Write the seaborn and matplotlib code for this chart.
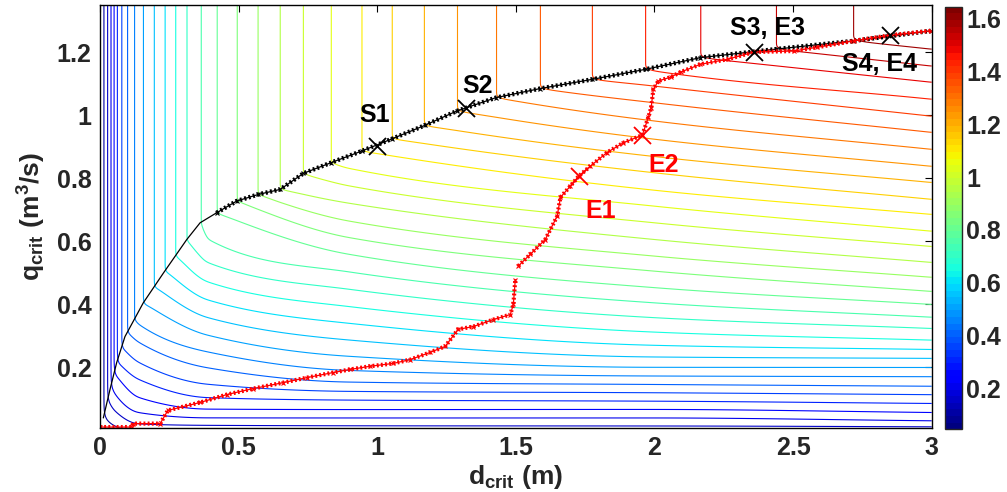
import numpy as np
import matplotlib
matplotlib.use("Agg")
import matplotlib.pyplot as plt
import matplotlib.cm as cm
from matplotlib.colors import Normalize
import seaborn as sns

sns.set_style("white")
plt.rcParams['font.family'] = ['Liberation Sans', 'DejaVu Sans']
plt.rcParams['font.weight'] = 'bold'
plt.rcParams['mathtext.fontset'] = 'custom'
plt.rcParams['mathtext.rm'] = 'Liberation Sans:bold'
plt.rcParams['mathtext.it'] = 'Liberation Sans:bold'
plt.rcParams['mathtext.bf'] = 'Liberation Sans:bold'

# ---------------- data ----------------
levels = [0.05, 0.10, 0.15, 0.20, 0.25, 0.30, 0.35, 0.40, 0.45, 0.50, 0.55,
          0.60, 0.65, 0.70, 0.75, 0.80, 0.85, 0.90, 0.95, 1.00, 1.05, 1.10,
          1.15, 1.20, 1.25, 1.30, 1.35, 1.40, 1.45, 1.50, 1.55, 1.60]
value_min, value_max = 0.045, 1.645

# d position of the vertical contour of each level 0.10 ... 1.60 (upper region)
vert_d = [0.014, 0.028, 0.040, 0.051, 0.061, 0.078, 0.099, 0.124, 0.156, 0.196,
          0.235, 0.273, 0.313, 0.365, 0.422, 0.495, 0.570, 0.650, 0.733, 0.834,
          0.945, 1.054, 1.170, 1.289, 1.430, 1.588, 1.776, 1.968, 2.166, 2.440, 2.718]

# black boundary curve (d_crit, q_crit)
bnd_d = [0.012, 0.036, 0.060, 0.090, 0.156, 0.229, 0.313, 0.361, 0.421, 0.493,
         0.571, 0.650, 0.734, 0.834, 0.945, 1.055, 1.171, 1.288, 1.428, 1.588,
         1.775, 1.968, 2.166, 2.439, 2.717, 2.996]
bnd_q = [0.040, 0.130, 0.215, 0.298, 0.405, 0.500, 0.606, 0.659, 0.691, 0.728,
         0.749, 0.765, 0.816, 0.850, 0.887, 0.926, 0.968, 1.014, 1.056, 1.085,
         1.114, 1.146, 1.183, 1.210, 1.236, 1.268]

# q position of contour levels 0.10, 0.15, ... below the boundary, at fixed d columns
col_d = [0.05, 0.141, 0.39, 0.9, 2.0, 3.0]
col_q_005 = [0.020, 0.065, 0.120]
col_q_0141 = [0.000, 0.019, 0.056, 0.104, 0.162, 0.215, 0.280, 0.335]
col_q_039 = [0.000, 0.015, 0.040, 0.067, 0.104, 0.146, 0.199, 0.249, 0.302, 0.358,
             0.414, 0.471, 0.532, 0.606]
col_q_09 = [0.000, 0.013, 0.040, 0.066, 0.097, 0.124, 0.153, 0.190, 0.235, 0.287,
            0.340, 0.393, 0.448, 0.503, 0.559, 0.612, 0.664, 0.721, 0.776, 0.831]
col_q_2 = [0.000, 0.012, 0.040, 0.067, 0.093, 0.120, 0.146, 0.173, 0.200, 0.233,
           0.270, 0.312, 0.358, 0.405, 0.453, 0.506, 0.553, 0.606, 0.659, 0.712,
           0.762, 0.818, 0.869, 0.924, 0.982, 1.040, 1.093, 1.140]
col_q_3 = [0.000, 0.010, 0.030, 0.057, 0.086, 0.114, 0.140, 0.171, 0.200, 0.229,
           0.257, 0.286, 0.324, 0.359, 0.400, 0.441, 0.486, 0.533, 0.584, 0.632,
           0.686, 0.733, 0.787, 0.838, 0.892, 0.946, 0.997, 1.051, 1.105, 1.156, 1.210]

# red path (two pieces, gap near d = 1.5)
red1_d = [0.000, 0.114, 0.119, 0.217, 0.245, 0.361, 0.457, 0.552, 0.661, 0.747,
          0.841, 0.903, 0.975, 1.058, 1.119, 1.191, 1.245, 1.292, 1.347, 1.419,
          1.480, 1.491, 1.498]
red1_q = [0.011, 0.011, 0.022, 0.022, 0.064, 0.089, 0.114, 0.133, 0.152, 0.168,
          0.184, 0.194, 0.204, 0.213, 0.225, 0.248, 0.267, 0.321, 0.330, 0.352,
          0.368, 0.400, 0.479]
red2_d = [1.509, 1.552, 1.606, 1.649, 1.661, 1.697, 1.727, 1.769, 1.829, 1.888,
          1.956, 1.978, 1.988, 1.996, 2.014, 2.058, 2.094, 2.166, 2.264, 2.361,
          2.502, 2.588, 2.718, 2.848, 2.996]
red2_q = [0.522, 0.559, 0.606, 0.680, 0.740, 0.776, 0.807, 0.839, 0.882, 0.913,
          0.937, 0.994, 1.024, 1.083, 1.109, 1.121, 1.137, 1.162, 1.178, 1.201,
          1.204, 1.216, 1.236, 1.254, 1.268]

# labelled points
s_names = ["S1", "S2", "S3, E3", "S4, E4"]
s_d = [1.00, 1.32, 2.36, 2.85]
s_q = [0.903, 1.024, 1.201, 1.254]
s_label_d = [0.99, 1.363, 2.407, 2.812]
s_label_q = [1.002, 1.093, 1.277, 1.164]
e_names = ["E1", "E2"]
e_d = [1.727, 1.956]
e_q = [0.807, 0.937]
e_label_d = [1.805, 2.032]
e_label_q = [0.698, 0.841]

xticks = [0, 0.5, 1, 1.5, 2, 2.5, 3]
xticklabels = ["0", "0.5", "1", "1.5", "2", "2.5", "3"]
yticks = [0.2, 0.4, 0.6, 0.8, 1.0, 1.2]
yticklabels = ["0.2", "0.4", "0.6", "0.8", "1", "1.2"]
cticks = [0.2, 0.4, 0.6, 0.8, 1.0, 1.2, 1.4, 1.6]
cticklabels = ["0.2", "0.4", "0.6", "0.8", "1", "1.2", "1.4", "1.6"]


# ---------------- build the field from the tables ----------------
def pchip(x, y, xi):
    x = np.asarray(x, float)
    y = np.asarray(y, float)
    n = len(x)
    if n < 3:
        return np.interp(xi, x, y)
    h = np.diff(x)
    delta = np.diff(y) / h
    m = np.zeros(n)
    for i in range(1, n - 1):
        if delta[i - 1] * delta[i] <= 0:
            m[i] = 0.0
        else:
            w1 = 2 * h[i] + h[i - 1]
            w2 = h[i] + 2 * h[i - 1]
            m[i] = (w1 + w2) / (w1 / delta[i - 1] + w2 / delta[i])
    m[0] = 1.2 * delta[0]
    m[-1] = delta[-1]
    xc = np.clip(xi, x[0], x[-1])
    idx = np.clip(np.searchsorted(x, xc) - 1, 0, n - 2)
    t = (xc - x[idx]) / h[idx]
    h00 = 2 * t**3 - 3 * t**2 + 1
    h10 = t**3 - 2 * t**2 + t
    h01 = -2 * t**3 + 3 * t**2
    h11 = t**3 - t**2
    return h00 * y[idx] + h10 * h[idx] * m[idx] + h01 * y[idx + 1] + h11 * h[idx] * m[idx + 1]


def smooth(a, sig, axis):
    r = int(3 * sig)
    k = np.exp(-0.5 * (np.arange(-r, r + 1) / sig) ** 2)
    k /= k.sum()
    pad = [(0, 0), (0, 0)]
    pad[axis] = (r, r)
    ap = np.pad(a, pad, mode="edge")
    out = np.zeros_like(a)
    for i, w in enumerate(k):
        if axis == 0:
            out += w * ap[i:i + a.shape[0], :]
        else:
            out += w * ap[:, i:i + a.shape[1]]
    return out


vert_levels = levels[1:]
cols = [col_q_005, col_q_0141, col_q_039, col_q_09, col_q_2, col_q_3]
dd = np.linspace(0.0, 3.0, 601)
qq = np.linspace(0.0, 1.36, 545)
f_col = np.interp(dd, [0.0] + vert_d + [3.0], [value_min] + vert_levels + [value_max])
qb_col = np.interp(dd, bnd_d, bnd_q)

Qk = np.zeros((len(vert_levels), dd.size))
for k, L in enumerate(vert_levels):
    dL = vert_d[k]
    pts_d = [dL]
    pts_q = [float(np.interp(dL, bnd_d, bnd_q))]
    for cd, cq in zip(col_d, cols):
        if cd > dL and k < len(cq):
            pts_d.append(cd)
            pts_q.append(cq[k])
    below = pchip(pts_d, pts_q, dd)
    above = qb_col + (L - f_col) * 1.0
    Qk[k] = np.where(dd >= dL, below, above)

G = np.zeros((qq.size, dd.size))
for j in range(dd.size):
    qk = np.maximum.accumulate(Qk[:, j]) + np.arange(len(vert_levels)) * 1e-6
    xs = np.concatenate([[qk[0] - 0.3], qk, [qk[-1] + 0.3]])
    ys = np.concatenate([[0.0], vert_levels, [1.9]])
    G[:, j] = np.interp(qq, xs, ys)
Z = np.minimum(f_col[None, :], G)
Z = smooth(smooth(Z, 3.0, 0), 1.5, 1)

# ---------------- figure ----------------
W, H = 1007, 492
fig = plt.figure(figsize=(W / 100, H / 100), dpi=100)
ax = fig.add_axes([100 / W, (H - 427.7) / H, 831.7 / W, 422.7 / H])
cax = fig.add_axes([945 / W, (H - 429.3) / H, 17.3 / W, 422.6 / H])

norm = Normalize(vmin=value_min, vmax=value_max)
ax.contour(dd, qq, Z, levels=levels, cmap="jet", norm=norm, linewidths=0.8)

# black boundary
sns.lineplot(x=bnd_d, y=bnd_q, sort=False, estimator=None, color="k", lw=0.9, ax=ax)
up = [i for i, v in enumerate(bnd_d) if v >= 0.42]
ax.plot([bnd_d[i] for i in up], [bnd_q[i] for i in up], color="k", lw=3.2,
        ls=(0, (0.45, 0.55)), dash_capstyle="butt")
ax.plot([bnd_d[i] for i in up], [bnd_q[i] for i in up], "x", color="k", ms=3.5, mew=0.8)

# red path
for rd, rq in ((red1_d, red1_q), (red2_d, red2_q)):
    sns.lineplot(x=rd, y=rq, sort=False, estimator=None, color="#ff0000", lw=0.9, ax=ax)
    ax.plot(rd, rq, color="#ff0000", lw=3.0, ls=(0, (0.45, 0.55)),
            dash_capstyle="butt")
    ax.plot(rd, rq, "x", color="#ff0000", ms=3.5, mew=0.8)

# labelled points
sns.scatterplot(x=s_d, y=s_q, marker="x", s=150, color="k", linewidth=1.3, ax=ax, zorder=5)
sns.scatterplot(x=e_d, y=e_q, marker="x", s=150, color="#ff0000", linewidth=1.3, ax=ax, zorder=5)
for n, x, y in zip(s_names, s_label_d, s_label_q):
    ax.text(x, y, n, ha="center", va="center", fontsize=18, fontweight="bold", color="k")
for n, x, y in zip(e_names, e_label_d, e_label_q):
    ax.text(x, y, n, ha="center", va="center", fontsize=18, fontweight="bold", color="#ff0000")

ax.set_xlim(0, 3)
ax.set_ylim(0.009, 1.35)
ax.set_xticks(xticks)
ax.set_xticklabels(xticklabels)
ax.set_yticks(yticks)
ax.set_yticklabels(yticklabels)
ax.tick_params(direction="in", length=5, width=0.8, top=True, right=True,
               labelsize=18, pad=6, color="k")
for s in ax.spines.values():
    s.set_linewidth(1.0)
    s.set_color("k")
ax.set_xlabel(r"$\mathrm{d_{crit}\ (m)}$", fontsize=19, labelpad=2)
ax.set_ylabel(r"$\mathrm{q_{crit}\ (m^3/s)}$", fontsize=19, labelpad=6)

cmap64 = plt.get_cmap("jet", 64)
cb = fig.colorbar(cm.ScalarMappable(norm=norm, cmap=cmap64), cax=cax)
cb.set_ticks(cticks)
cb.set_ticklabels(cticklabels)
cax.tick_params(direction="in", length=4, width=0.8, left=True, right=True,
                labelsize=18, pad=3)
cb.outline.set_linewidth(1.0)

fig.savefig("out.png", dpi=100)
